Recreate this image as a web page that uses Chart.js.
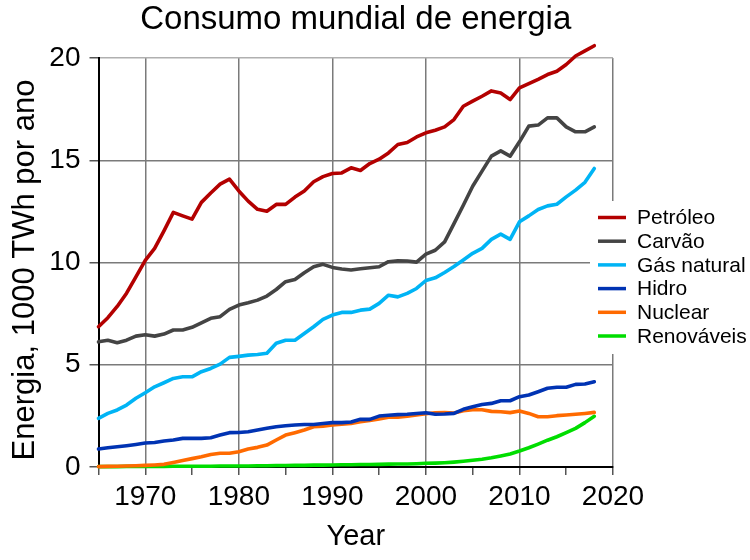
<!DOCTYPE html>
<html><head><meta charset="utf-8">
<script src="https://cdn.jsdelivr.net/npm/chart.js@4/dist/chart.umd.min.js"></script>
<style>html,body{margin:0;padding:0;background:#fff}#wrap{width:750px;height:560px}</style>
</head><body><div id="wrap"><canvas id="c" width="750" height="560"></canvas></div>
<script>
const years = [];
for (let y = 1965; y <= 2018; y++) years.push(y);
const xTicks = [1970, 1980, 1990, 2000, 2010, 2020];
const yTicks = [0, 5, 10, 15, 20];
const labels = ["Petróleo", "Carvão", "Gás natural", "Hidro", "Nuclear", "Renováveis"];
const colors = ["#b30000", "#444444", "#00b4f5", "#0033b3", "#ff6a00", "#00dd00"];
const yAxisTitle = "Energia, 1000 TWh por ano";

const oil = [6.86,7.3,7.85,8.5,9.3,10.1,10.69,11.55,12.45,12.28,12.12,12.94,13.4,13.83,14.08,13.5,13.0,12.6,12.51,12.84,12.84,13.2,13.5,13.95,14.2,14.35,14.38,14.63,14.5,14.84,15.05,15.36,15.77,15.87,16.14,16.34,16.47,16.63,16.99,17.64,17.89,18.13,18.39,18.29,17.97,18.54,18.75,18.96,19.19,19.35,19.68,20.1,20.35,20.6];
const coal = [6.12,6.2,6.08,6.2,6.4,6.47,6.4,6.5,6.7,6.7,6.83,7.05,7.27,7.35,7.71,7.92,8.03,8.16,8.36,8.68,9.06,9.17,9.5,9.79,9.91,9.76,9.68,9.63,9.69,9.74,9.79,10.04,10.08,10.07,10.02,10.41,10.6,11.01,11.9,12.8,13.73,14.47,15.2,15.46,15.2,15.9,16.67,16.72,17.07,17.07,16.63,16.39,16.39,16.63];
const gas = [2.38,2.62,2.79,3.03,3.36,3.63,3.92,4.12,4.33,4.41,4.41,4.66,4.82,5.03,5.36,5.41,5.47,5.5,5.56,6.05,6.2,6.2,6.53,6.86,7.22,7.43,7.56,7.56,7.67,7.72,8.0,8.4,8.32,8.49,8.73,9.12,9.25,9.51,9.8,10.12,10.45,10.69,11.13,11.39,11.13,11.99,12.28,12.59,12.77,12.85,13.21,13.54,13.92,14.6];
const hydro = [0.88,0.94,0.99,1.04,1.1,1.17,1.2,1.27,1.32,1.4,1.4,1.4,1.43,1.56,1.68,1.69,1.72,1.81,1.89,1.97,2.02,2.05,2.08,2.08,2.13,2.17,2.17,2.2,2.33,2.33,2.49,2.53,2.56,2.58,2.62,2.65,2.58,2.59,2.62,2.82,2.95,3.06,3.11,3.24,3.24,3.44,3.52,3.68,3.85,3.9,3.9,4.04,4.06,4.17];
const nuclear = [0.02,0.03,0.04,0.05,0.06,0.08,0.1,0.13,0.22,0.32,0.41,0.5,0.61,0.67,0.67,0.75,0.88,0.96,1.07,1.32,1.56,1.68,1.81,1.97,2.0,2.05,2.09,2.13,2.21,2.27,2.35,2.43,2.43,2.48,2.55,2.6,2.65,2.66,2.64,2.75,2.8,2.8,2.72,2.7,2.66,2.74,2.62,2.46,2.46,2.51,2.54,2.58,2.62,2.67];
const renew = [0.02,0.02,0.02,0.03,0.03,0.03,0.03,0.03,0.04,0.04,0.04,0.04,0.04,0.05,0.05,0.05,0.05,0.06,0.06,0.07,0.07,0.08,0.08,0.09,0.09,0.1,0.11,0.11,0.12,0.12,0.13,0.14,0.15,0.15,0.16,0.18,0.19,0.21,0.24,0.28,0.33,0.38,0.45,0.54,0.64,0.78,0.94,1.12,1.31,1.48,1.68,1.89,2.17,2.48];
const series = [oil, coal, gas, hydro, nuclear, renew];

const FONT = "'Liberation Sans', Arial, sans-serif";

const extrasPlugin = {
  id: 'extras',
  afterDraw(chart) {
    const ctx = chart.ctx;
    ctx.save();
    // y-axis title
    ctx.save();
    ctx.translate(25, 270);
    ctx.rotate(-Math.PI / 2);
    ctx.font = '31px ' + FONT;
    ctx.fillStyle = '#000';
    ctx.textAlign = 'center';
    ctx.textBaseline = 'middle';
    ctx.fillText(yAxisTitle, 0, 0);
    ctx.restore();
    // legend
    ctx.fillStyle = '#fff';
    ctx.fillRect(590, 201, 160, 153);
    const x0 = 598, x1 = 626, tx = 637, y0 = 217.5, dy = 23.7;
    ctx.font = '21px ' + FONT;
    ctx.textBaseline = 'middle';
    chart.data.datasets.forEach((ds, i) => {
      const y = y0 + i * dy;
      ctx.strokeStyle = ds.borderColor;
      ctx.lineWidth = 3.5;
      ctx.beginPath(); ctx.moveTo(x0, y); ctx.lineTo(x1, y); ctx.stroke();
      ctx.fillStyle = '#000';
      ctx.fillText(ds.label, tx, y + 1);
    });
    ctx.restore();
  }
};

new Chart(document.getElementById('c'), {
  type: 'line',
  data: {
    datasets: series.map((s, i) => ({
      label: labels[i],
      data: years.map((yr, j) => ({ x: yr, y: s[j] })),
      borderColor: colors[i],
      backgroundColor: colors[i],
      borderWidth: 3.6,
      pointRadius: 0,
      tension: 0,
      fill: false,
      clip: false,
      borderJoinStyle: 'round',
      borderCapStyle: 'round'
    }))
  },
  options: {
    responsive: false,
    animation: false,
    layout: { padding: { left: 0, right: 137, top: 0, bottom: 0 } },
    plugins: {
      legend: { display: false },
      tooltip: { enabled: false },
      title: {
        display: true,
        text: 'Consumo mundial de energia',
        fullSize: false,
        color: '#000',
        font: { family: FONT, size: 33, weight: 'normal', lineHeight: 1.1 },
        padding: { top: 2, bottom: 19.7 }
      }
    },
    scales: {
      x: {
        type: 'linear',
        min: 1965, max: 2020,
        afterBuildTicks(scale) {
          const t = [];
          for (let v = 1965; v <= 2020; v += 5) t.push({ value: v });
          scale.ticks = t;
        },
        afterFit(scale) { scale.height = 93; },
        ticks: {
          color: '#000',
          font: { family: FONT, size: 28 },
          padding: 5,
          maxRotation: 0,
          autoSkip: false,
          callback: v => (xTicks.includes(v) ? String(v) : '')
        },
        grid: {
          color: ctx => (ctx.tick && xTicks.includes(ctx.tick.value) ? '#7a7a7a' : 'rgba(0,0,0,0)'),
          lineWidth: 1.5,
          tickColor: '#555',
          tickLength: 8,
          drawOnChartArea: true
        },
        border: { display: true, color: '#000', width: 2 },
        title: {
          display: true, text: 'Year', color: '#000',
          font: { family: FONT, size: 29 },
          padding: { top: 0, bottom: 6 }
        }
      },
      y: {
        type: 'linear',
        min: 0, max: 20,
        afterBuildTicks(scale) { scale.ticks = yTicks.map(v => ({ value: v })); },
        afterFit(scale) { scale.width = 98.5; },
        ticks: {
          color: '#000',
          font: { family: FONT, size: 28 },
          padding: 9,
          callback: v => String(v)
        },
        grid: {
          color: ctx => (ctx.tick && ctx.tick.value === 20 ? '#b0b0b0' : '#7a7a7a'),
          lineWidth: 1.5,
          tickColor: '#555',
          tickLength: 9
        },
        border: { display: true, color: '#000', width: 2 },
        title: { display: false, text: yAxisTitle }
      }
    }
  },
  plugins: [extrasPlugin]
});
</script></body></html>
